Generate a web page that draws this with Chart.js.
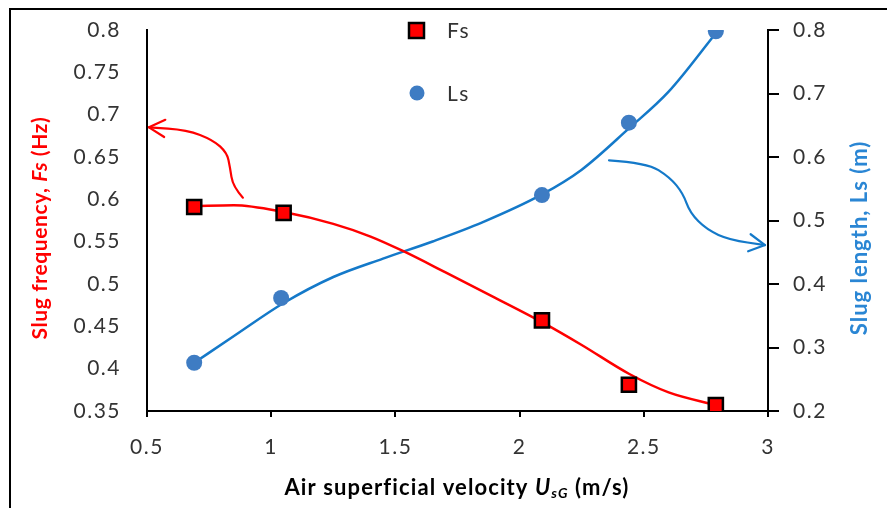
<!DOCTYPE html>
<html lang="en">
<head>
    <meta charset="UTF-8">
    <title>Slug frequency and slug length</title>
    <script src="https://cdn.jsdelivr.net/npm/chart.js@4"></script>
    <style>
        body { margin: 0; background: #fff; }
        canvas { display: block; }
    </style>
</head>
<body>
    <canvas id="slugChart" width="887" height="508"></canvas>
    <script>
        // measured points
        const fsX = [0.69, 1.05, 2.09, 2.44, 2.79];
        const fsY = [0.591, 0.584, 0.457, 0.381, 0.357];
        const lsX = [0.69, 1.04, 2.09, 2.44, 2.79];
        const lsY = [0.276, 0.378, 0.54, 0.654, 0.798];

        // trend curves
        const fsTrendX = [0.69, 0.85, 1.05, 1.25, 1.4, 1.53, 1.7, 1.9, 2.09, 2.25, 2.44, 2.6, 2.79];
        const fsTrendY = [0.592, 0.593, 0.585, 0.571, 0.556, 0.539, 0.514, 0.484, 0.455, 0.428, 0.394, 0.372, 0.357];
        const lsTrendX = [0.69, 0.85, 1.05, 1.25, 1.45, 1.65, 1.85, 2.09, 2.25, 2.44, 2.6, 2.79];
        const lsTrendY = [0.276, 0.318, 0.370, 0.411, 0.440, 0.467, 0.497, 0.541, 0.580, 0.645, 0.703, 0.795];

        // hand-drawn arrows (x, left-axis y)
        const redArrowX = [0.886, 0.846, 0.834, 0.822, 0.766, 0.661, 0.508];
        const redArrowY = [0.602, 0.615, 0.638, 0.655, 0.670, 0.682, 0.685];
        const blueArrowX = [2.360, 2.513, 2.605, 2.658, 2.686, 2.754, 2.847, 2.988];
        const blueArrowY = [0.646, 0.643, 0.626, 0.607, 0.584, 0.564, 0.552, 0.546];

        const xTicks = [0.5, 1, 1.5, 2, 2.5, 3];
        const leftTicks = [0.35, 0.4, 0.45, 0.5, 0.55, 0.6, 0.65, 0.7, 0.75, 0.8];
        const rightTicks = [0.2, 0.3, 0.4, 0.5, 0.6, 0.7, 0.8];

        const RED = '#ff0000';
        const BLUE_LINE = '#1479c9';
        const BLUE_DOT = '#3e7cc3';
        const BLUE_TEXT = '#2a86d4';
        const TICK_COLOR = '#333333';
        const FONT = 'Lato, "Open Sans", sans-serif';

        const pts = (xs, ys) => xs.map((x, i) => ({ x: x, y: ys[i] }));

        function fixedTicks(values) {
            return function(scale) {
                scale.ticks = values.map(v => ({ value: v }));
            };
        }

        // keep the plot area where the picture has it
        function fitVertical(width) {
            return function(s) {
                s.width = width;
                s.paddingTop = 0;
                s.paddingBottom = 0;
            };
        }

        function drawArrow(ctx, chart, xs, ys, color) {
            const sx = chart.scales.x, sy = chart.scales.yL;
            const p = xs.map((x, i) => [sx.getPixelForValue(x), sy.getPixelForValue(ys[i])]);
            ctx.save();
            ctx.strokeStyle = color;
            ctx.lineWidth = 2.2;
            ctx.lineCap = 'round';
            ctx.lineJoin = 'round';
            ctx.beginPath();
            ctx.moveTo(p[0][0], p[0][1]);
            for (let i = 1; i < p.length - 1; i++) {
                const mx = (p[i][0] + p[i + 1][0]) / 2, my = (p[i][1] + p[i + 1][1]) / 2;
                ctx.quadraticCurveTo(p[i][0], p[i][1], mx, my);
            }
            const tip = p[p.length - 1], prev = p[p.length - 2];
            ctx.lineTo(tip[0], tip[1]);
            ctx.stroke();
            // open arrow head
            const ang = Math.atan2(tip[1] - prev[1], tip[0] - prev[0]);
            const len = 18;
            ctx.beginPath();
            ctx.moveTo(tip[0] - len * Math.cos(ang - 0.5), tip[1] - len * Math.sin(ang - 0.5));
            ctx.lineTo(tip[0], tip[1]);
            ctx.lineTo(tip[0] - len * Math.cos(ang + 0.5), tip[1] - len * Math.sin(ang + 0.5));
            ctx.stroke();
            ctx.restore();
        }

        // draws text pieces one after another; each piece: [text, font, dy]
        function drawRich(ctx, pieces, cx, cy, color, rotate, spacing) {
            ctx.save();
            ctx.letterSpacing = spacing + 'px';
            ctx.translate(cx, cy);
            if (rotate) ctx.rotate(-Math.PI / 2);
            ctx.fillStyle = color;
            ctx.textBaseline = 'middle';
            ctx.textAlign = 'left';
            let total = 0;
            pieces.forEach(pc => { ctx.font = pc[1]; total += ctx.measureText(pc[0]).width; });
            let x = -total / 2;
            pieces.forEach(pc => {
                ctx.font = pc[1];
                ctx.fillText(pc[0], x, pc[2] || 0);
                x += ctx.measureText(pc[0]).width;
            });
            ctx.restore();
        }

        const decorations = {
            id: 'decorations',
            beforeDraw(chart) {
                const ctx = chart.ctx;
                ctx.save();
                ctx.fillStyle = '#fff';
                ctx.fillRect(0, 0, chart.width, chart.height);
                // outer frame (left and top edges are visible)
                ctx.strokeStyle = '#000';
                ctx.lineWidth = 2;
                ctx.beginPath();
                ctx.moveTo(10, chart.height);
                ctx.lineTo(10, 9);
                ctx.lineTo(chart.width, 9);
                ctx.stroke();
                ctx.restore();
                // wider letter spacing for tick labels
                ctx.letterSpacing = '1.5px';
            },
            afterDraw(chart) {
                const ctx = chart.ctx;
                ctx.letterSpacing = '0px';
                drawArrow(ctx, chart, redArrowX, redArrowY, RED);
                drawArrow(ctx, chart, blueArrowX, blueArrowY, BLUE_LINE);

                const r = 'bold 21px ' + FONT;
                drawRich(ctx, [['Slug frequency, ', r], ['Fs', 'italic ' + r], [' (Hz)', r]], 40, 228, RED, true, 0.6);
                drawRich(ctx, [['Slug length, Ls (m)', 'bold 22px ' + FONT]], 860, 238, BLUE_TEXT, true, 1);
                const b = 'bold 22px ' + FONT;
                drawRich(ctx, [['Air superficial velocity ', b], ['U', 'italic ' + b], ['sG', 'italic bold 14px ' + FONT, 5], [' (m/s)', b]], 457, 488, '#000', false, 1.1);

                // legend
                ctx.save();
                ctx.fillStyle = RED;
                ctx.strokeStyle = '#000';
                ctx.lineWidth = 2.5;
                ctx.fillRect(409, 23, 15, 15);
                ctx.strokeRect(409, 23, 15, 15);
                ctx.fillStyle = BLUE_DOT;
                ctx.beginPath();
                ctx.arc(417, 93, 7.5, 0, Math.PI * 2);
                ctx.fill();
                ctx.fillStyle = TICK_COLOR;
                ctx.letterSpacing = '1.5px';
                ctx.font = '21px ' + FONT;
                ctx.textBaseline = 'middle';
                ctx.fillText('Fs', 447, 31);
                ctx.fillText('Ls', 447, 94);
                ctx.restore();
            }
        };

        const tickFont = { family: FONT, size: 21 };

        const ctx = document.getElementById('slugChart').getContext('2d');
        new Chart(ctx, {
            type: 'scatter',
            data: {
                datasets: [
                    {
                        label: 'Fs',
                        data: pts(fsX, fsY),
                        yAxisID: 'yL',
                        pointStyle: 'rect',
                        pointRadius: 10,
                        backgroundColor: RED,
                        borderColor: '#000',
                        borderWidth: 2.5,
                        order: 1
                    },
                    {
                        label: 'Ls',
                        data: pts(lsX, lsY),
                        yAxisID: 'yR',
                        pointStyle: 'circle',
                        pointRadius: 8,
                        backgroundColor: BLUE_DOT,
                        borderColor: BLUE_DOT,
                        borderWidth: 0,
                        order: 2
                    },
                    {
                        label: 'Fs trend',
                        data: pts(fsTrendX, fsTrendY),
                        yAxisID: 'yL',
                        showLine: true,
                        pointRadius: 0,
                        borderColor: RED,
                        borderWidth: 2.5,
                        cubicInterpolationMode: 'monotone',
                        order: 3
                    },
                    {
                        label: 'Ls trend',
                        data: pts(lsTrendX, lsTrendY),
                        yAxisID: 'yR',
                        showLine: true,
                        pointRadius: 0,
                        borderColor: BLUE_LINE,
                        borderWidth: 2.5,
                        cubicInterpolationMode: 'monotone',
                        order: 4
                    }
                ]
            },
            options: {
                responsive: false,
                animation: false,
                layout: { padding: { top: 30, left: 0, right: 0, bottom: 0 } },
                plugins: {
                    legend: { display: false },
                    tooltip: { enabled: false }
                },
                scales: {
                    x: {
                        type: 'linear',
                        position: 'bottom',
                        min: 0.5,
                        max: 3,
                        afterBuildTicks: fixedTicks(xTicks),
                        afterFit: s => { s.height = 97; s.paddingLeft = 0; s.paddingRight = 0; },
                        grid: { drawOnChartArea: false, drawTicks: true, tickLength: 6, color: '#000', lineWidth: 2 },
                        border: { display: true, color: '#000', width: 2 },
                        ticks: {
                            color: TICK_COLOR,
                            font: tickFont,
                            padding: 18,
                            maxRotation: 0,
                            callback: v => String(+v.toFixed(2))
                        }
                    },
                    yL: {
                        type: 'linear',
                        position: 'left',
                        min: 0.35,
                        max: 0.8,
                        afterBuildTicks: fixedTicks(leftTicks),
                        afterFit: fitVertical(147),
                        grid: { display: false, drawTicks: false },
                        border: { display: true, color: '#000', width: 2 },
                        ticks: {
                            color: TICK_COLOR,
                            font: tickFont,
                            padding: 26,
                            callback: v => String(+v.toFixed(2))
                        }
                    },
                    yR: {
                        type: 'linear',
                        position: 'right',
                        min: 0.2,
                        max: 0.8,
                        afterBuildTicks: fixedTicks(rightTicks),
                        afterFit: fitVertical(119),
                        grid: { drawOnChartArea: false, drawTicks: true, tickLength: 11, color: '#000', lineWidth: 2 },
                        border: { display: true, color: '#000', width: 2 },
                        ticks: {
                            color: TICK_COLOR,
                            font: tickFont,
                            padding: 14,
                            callback: v => String(+v.toFixed(2))
                        }
                    }
                }
            },
            plugins: [decorations]
        });
    </script>
</body>
</html>
